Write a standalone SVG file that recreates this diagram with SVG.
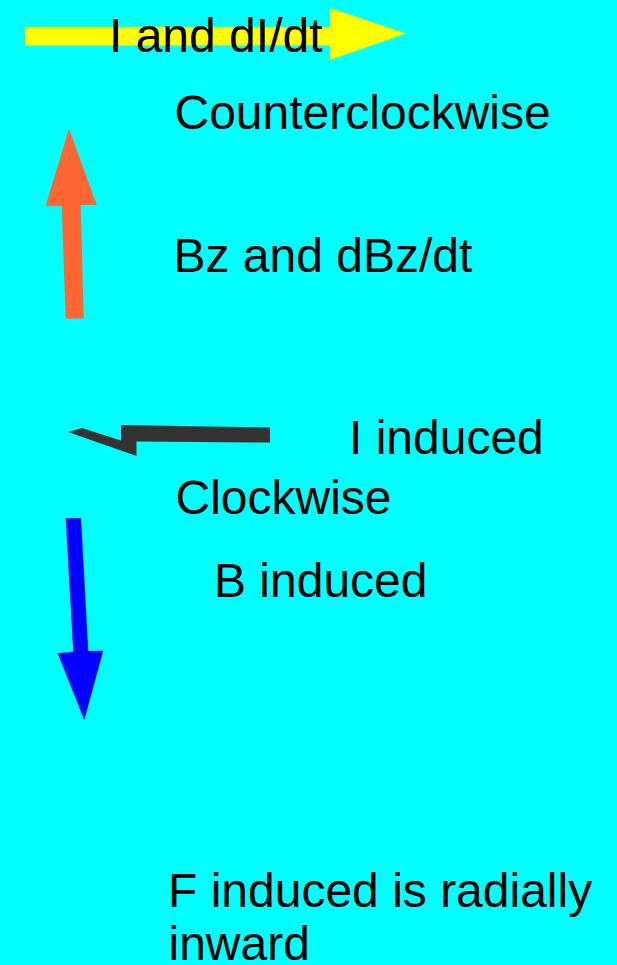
<svg xmlns="http://www.w3.org/2000/svg" width="617" height="965" viewBox="0 0 617 965">
<style>
text{font-family:"Liberation Sans",Arial,sans-serif;font-size:48px;fill:#000}
</style>
<rect x="0" y="0" width="617" height="965" fill="#00ffff"/>
<g id="connectors">
<polygon id="arrow-yellow" fill="#ffff00" points="25,27 330,27 330,8 406,33.5 330,60 330,45.5 25,45.5"/>
<polygon id="arrow-orange" fill="#ff6633" points="69,128.5 96.7,205 80.7,205 83.7,318.5 65.7,318.7 61.7,206 45.7,205.7"/>
<polygon id="arrow-dark" fill="#333333" points="270,427.5 121,425 121,440.5 82,428 68,432 136.5,456 136.5,441.5 270,442.5"/>
<polygon id="arrow-blue" fill="#0000ff" points="65.7,518.3 81,518 88.3,651 103.3,650.7 84.3,720 57.7,653.3 73.3,651.7"/>
</g>
<g id="label-current"><text x="109" y="51.7">I and dI/dt</text></g>
<g id="label-ccw"><text x="174.5" y="129.3">Counterclockwise</text></g>
<g id="label-bz"><text x="173.5" y="271.5">Bz and dBz/dt</text></g>
<g id="label-iind"><text x="349" y="454.3">I induced</text></g>
<g id="label-cw"><text x="175.5" y="514.3">Clockwise</text></g>
<g id="label-bind"><text x="214" y="596.7">B induced</text></g>
<g id="label-find"><text x="168" y="906.7">F induced is radially</text><text x="168.5" y="960">inward</text></g>
</svg>
